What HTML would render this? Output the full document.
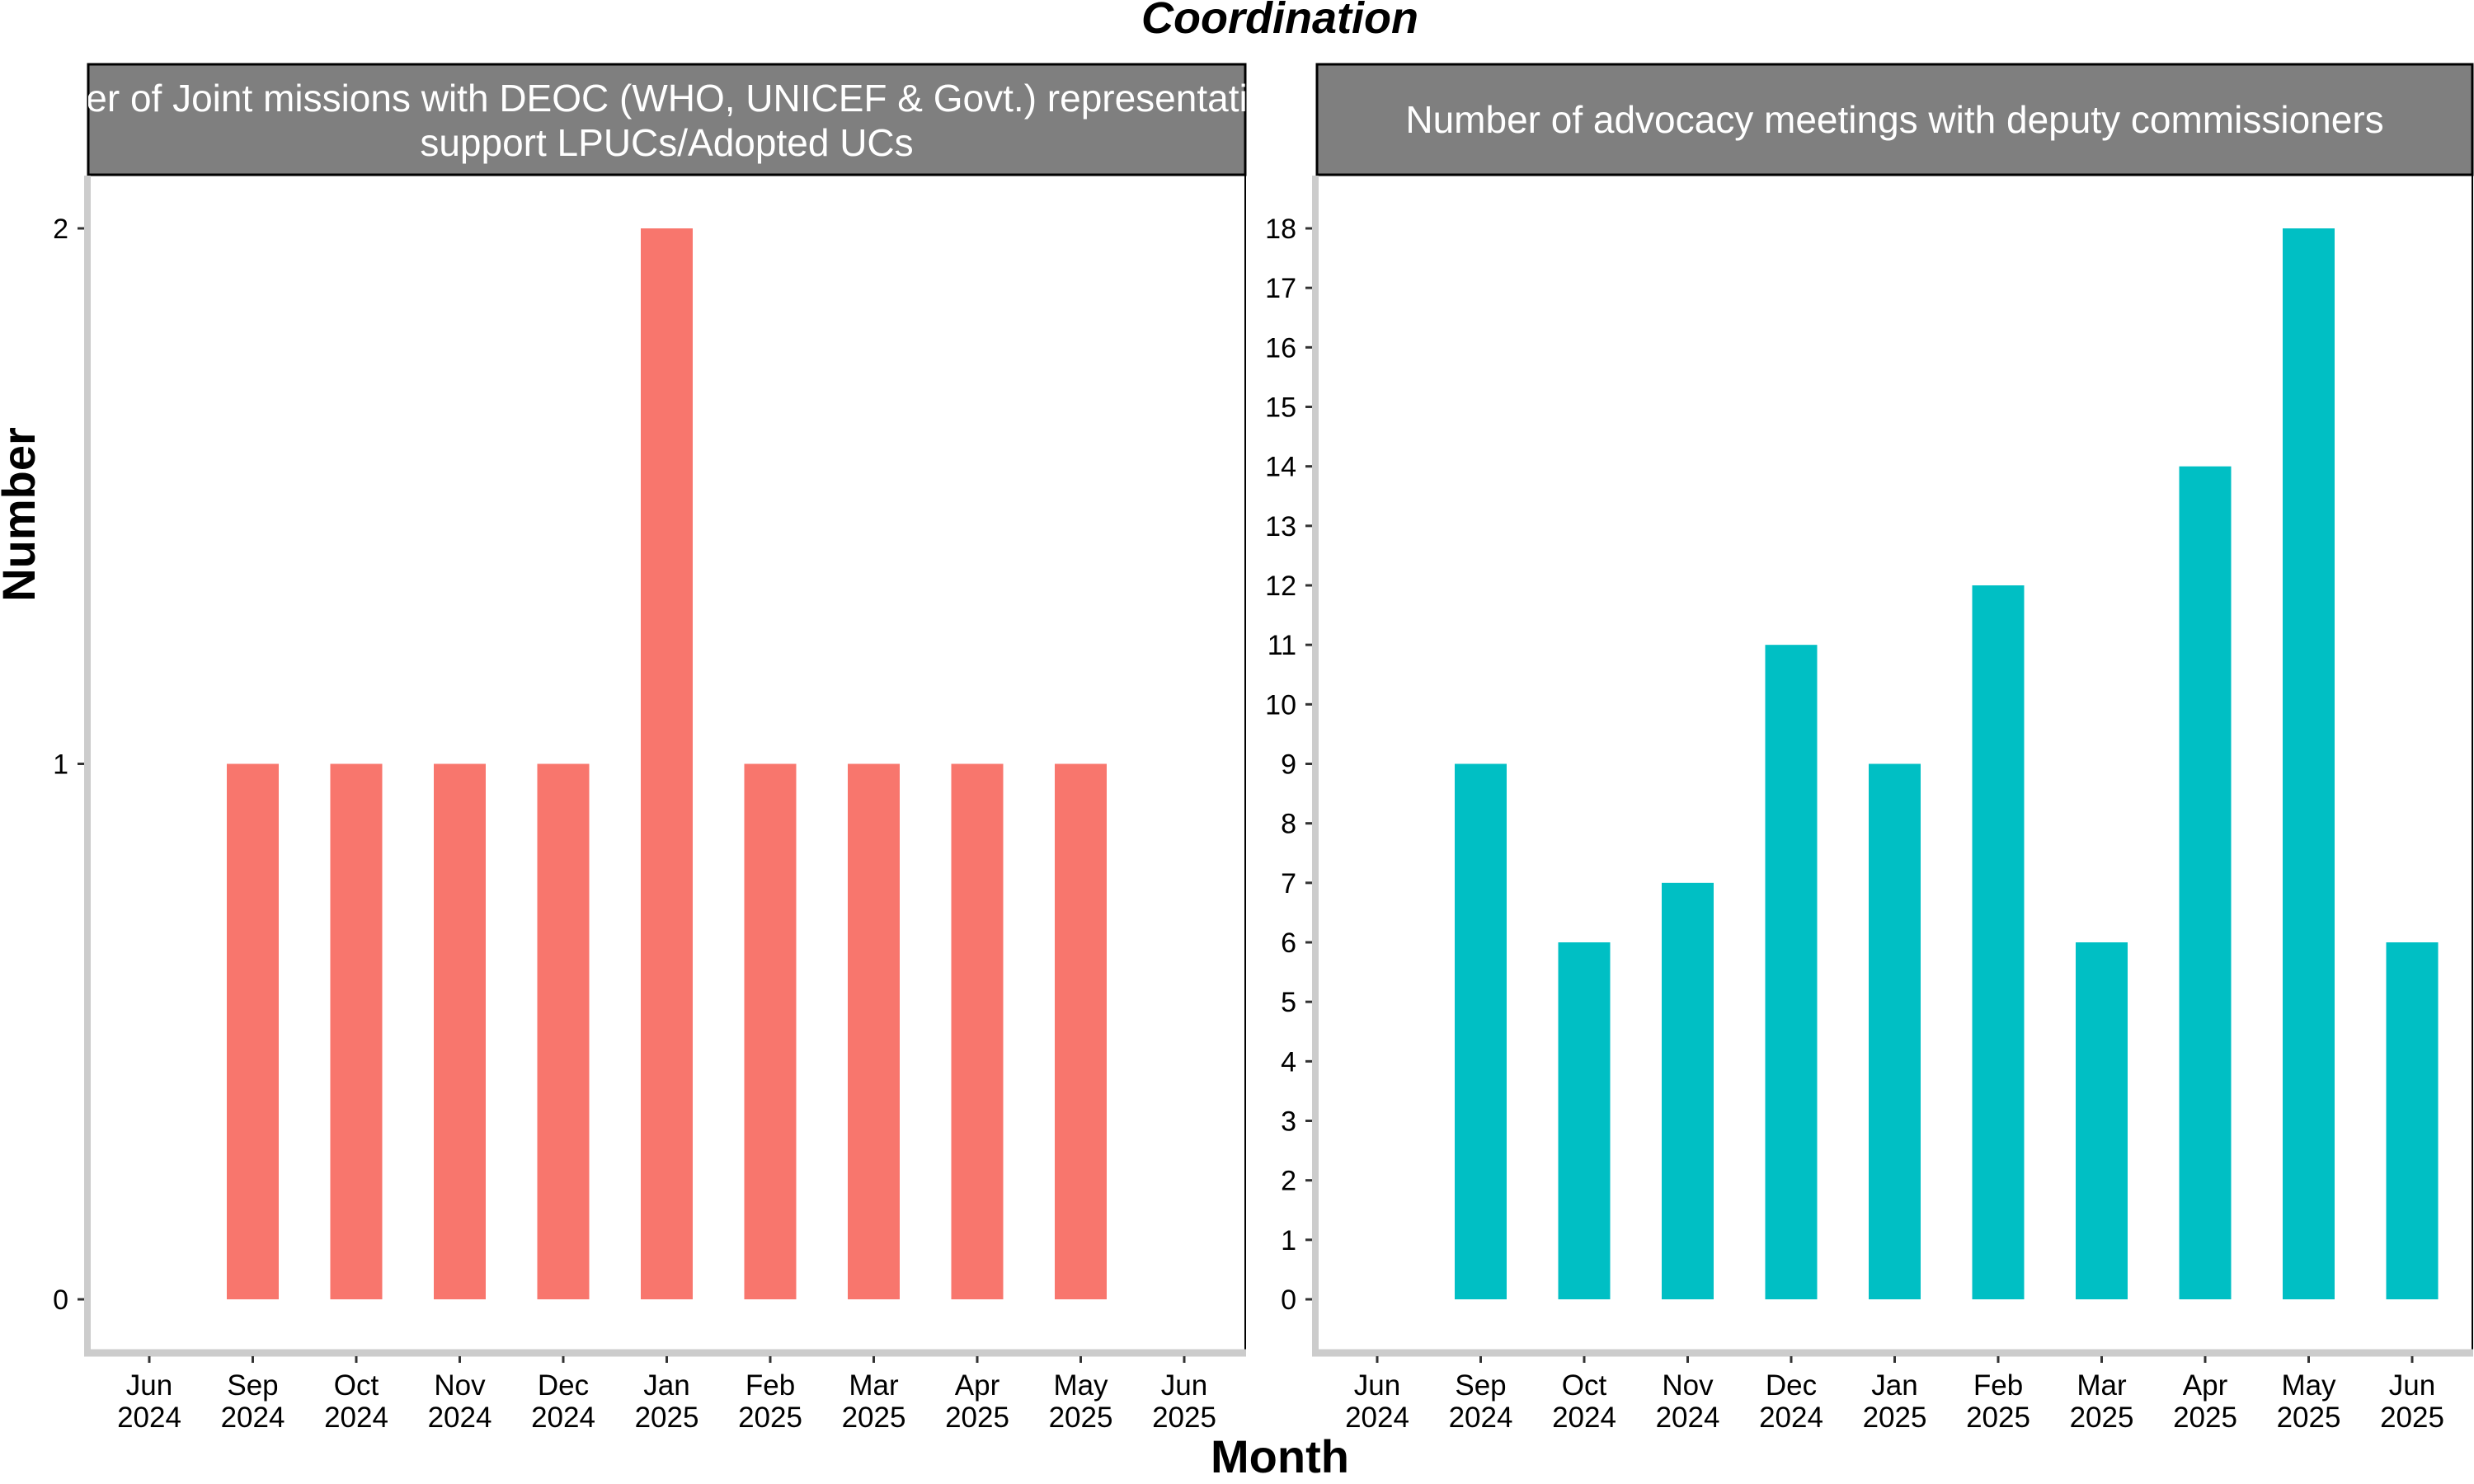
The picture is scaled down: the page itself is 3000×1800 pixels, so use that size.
<!DOCTYPE html>
<html><head><meta charset="utf-8">
<style>
html,body{margin:0;padding:0;background:#fff;}
svg{display:block;font-family:"Liberation Sans",Arial,sans-serif;}
</style></head>
<body>
<svg id="chart" width="3000" height="1800" viewBox="0 0 3000 1800" xmlns="http://www.w3.org/2000/svg">
  <rect x="0" y="0" width="3000" height="1800" fill="#fff"/>
  <text x="1552" y="40" text-anchor="middle" font-size="54" font-weight="bold" font-style="italic">Coordination</text>
  <text x="1552" y="1786" text-anchor="middle" font-size="56" font-weight="bold">Month</text>
  <text transform="translate(42,624) rotate(-90)" text-anchor="middle" font-size="56" font-weight="bold">Number</text>
  <g id="panels"></g>
</svg>
<script>
const months = ["Jun","Sep","Oct","Nov","Dec","Jan","Feb","Mar","Apr","May","Jun"];
const years = ["2024","2024","2024","2024","2024","2025","2025","2025","2025","2025","2025"];
const jointMissions = [null,1,1,1,1,2,1,1,1,1,null];
const advocacyMeetings = [null,9,6,7,11,9,12,6,14,18,6];
const leftTicks = [0,1,2];
const rightTicks = [0,1,2,3,4,5,6,7,8,9,10,11,12,13,14,15,16,17,18];

const NS = "http://www.w3.org/2000/svg";
const root = document.getElementById("panels");
function mk(tag, attrs, parent){
  const e = document.createElementNS(NS, tag);
  for (const k in attrs) e.setAttribute(k, attrs[k]);
  (parent||root).appendChild(e);
  return e;
}

const panelTop = 213, panelBottom = 1641, zeroY = 1576, topY = 277;

function drawPanel(cfg){
  const g = mk("g", {});
  
  
  const maxV = cfg.ticks[cfg.ticks.length-1];
  const yScale = v => zeroY - (zeroY - topY) * v / maxV;
  const xScale = i => cfg.x0 + i * 125.5;

  // strip
  const strip = mk("rect", {x: cfg.left, y: 78, width: cfg.right - cfg.left, height: 134, fill: "#7f7f7f", stroke: "#000", "stroke-width": 3}, g);
  
  
  const clipId = cfg.name + "-clip";
  const cp = mk("clipPath", {id: clipId}, g);
  mk("rect", {x: cfg.left, y: 78, width: cfg.right - cfg.left, height: 134}, cp);
  const stripText = mk("g", {"clip-path": "url(#" + clipId + ")"}, g);
  cfg.stripLines.forEach((ln, k) => {
    const t = mk("text", {x: (cfg.left + cfg.right)/2, y: cfg.stripY[k], "text-anchor": "middle", "font-size": 46, fill: "#fff"}, stripText);
    
    
    t.textContent = ln;
  });

  // panel right border
  mk("line", {x1: cfg.right, y1: panelTop, x2: cfg.right, y2: panelBottom, stroke: "#000", "stroke-width": 2}, g);

  // bars
  cfg.values.forEach((v, i) => {
    if (v === null) return;
    const y = yScale(v);
    const b = mk("rect", {x: xScale(i) - 31.5, y: y, width: 63, height: zeroY - y, fill: cfg.color}, g);
    
    
  });

  // axes
  const ya = mk("line", {x1: cfg.axisX, y1: panelTop, x2: cfg.axisX, y2: panelBottom + 4, stroke: "#cccccc", "stroke-width": 8}, g);
  
  
  const xa = mk("line", {x1: cfg.axisX - 4, y1: panelBottom, x2: cfg.right + 1, y2: panelBottom, stroke: "#cccccc", "stroke-width": 9}, g);
  
  

  cfg.ticks.forEach(t => {
    const y = yScale(t);
    mk("line", {x1: cfg.axisX - 12, y1: y, x2: cfg.axisX - 4, y2: y, stroke: "#333", "stroke-width": 3}, g);
    const lbl = mk("text", {x: cfg.axisX - 23, y: y + 12, "text-anchor": "end", "font-size": 34, fill: "#000"}, g);
    
    
    lbl.textContent = t;
  });

  months.forEach((m, i) => {
    const x = xScale(i);
    mk("line", {x1: x, y1: panelBottom + 4, x2: x, y2: panelBottom + 12, stroke: "#333", "stroke-width": 3}, g);
    const t1 = mk("text", {x: x, y: 1692, "text-anchor": "middle", "font-size": 35, fill: "#000"}, g);
    
    
    t1.textContent = m;
    const t2 = mk("text", {x: x, y: 1731, "text-anchor": "middle", "font-size": 35, fill: "#000"}, g);
    
    
    t2.textContent = years[i];
  });
}

drawPanel({name: "joint-missions-panel", left: 107, right: 1510, axisX: 106, x0: 181,
  values: jointMissions, ticks: leftTicks, color: "#f8766d",
  stripLines: ["Number of Joint missions with DEOC (WHO, UNICEF & Govt.) representatives to", "support LPUCs/Adopted UCs"],
  stripY: [135, 189]});
drawPanel({name: "advocacy-meetings-panel", left: 1597, right: 2998, axisX: 1595, x0: 1670,
  values: advocacyMeetings, ticks: rightTicks, color: "#00bfc4",
  stripLines: ["Number of advocacy meetings with deputy commissioners"],
  stripY: [161]});
</script>
</body></html>
